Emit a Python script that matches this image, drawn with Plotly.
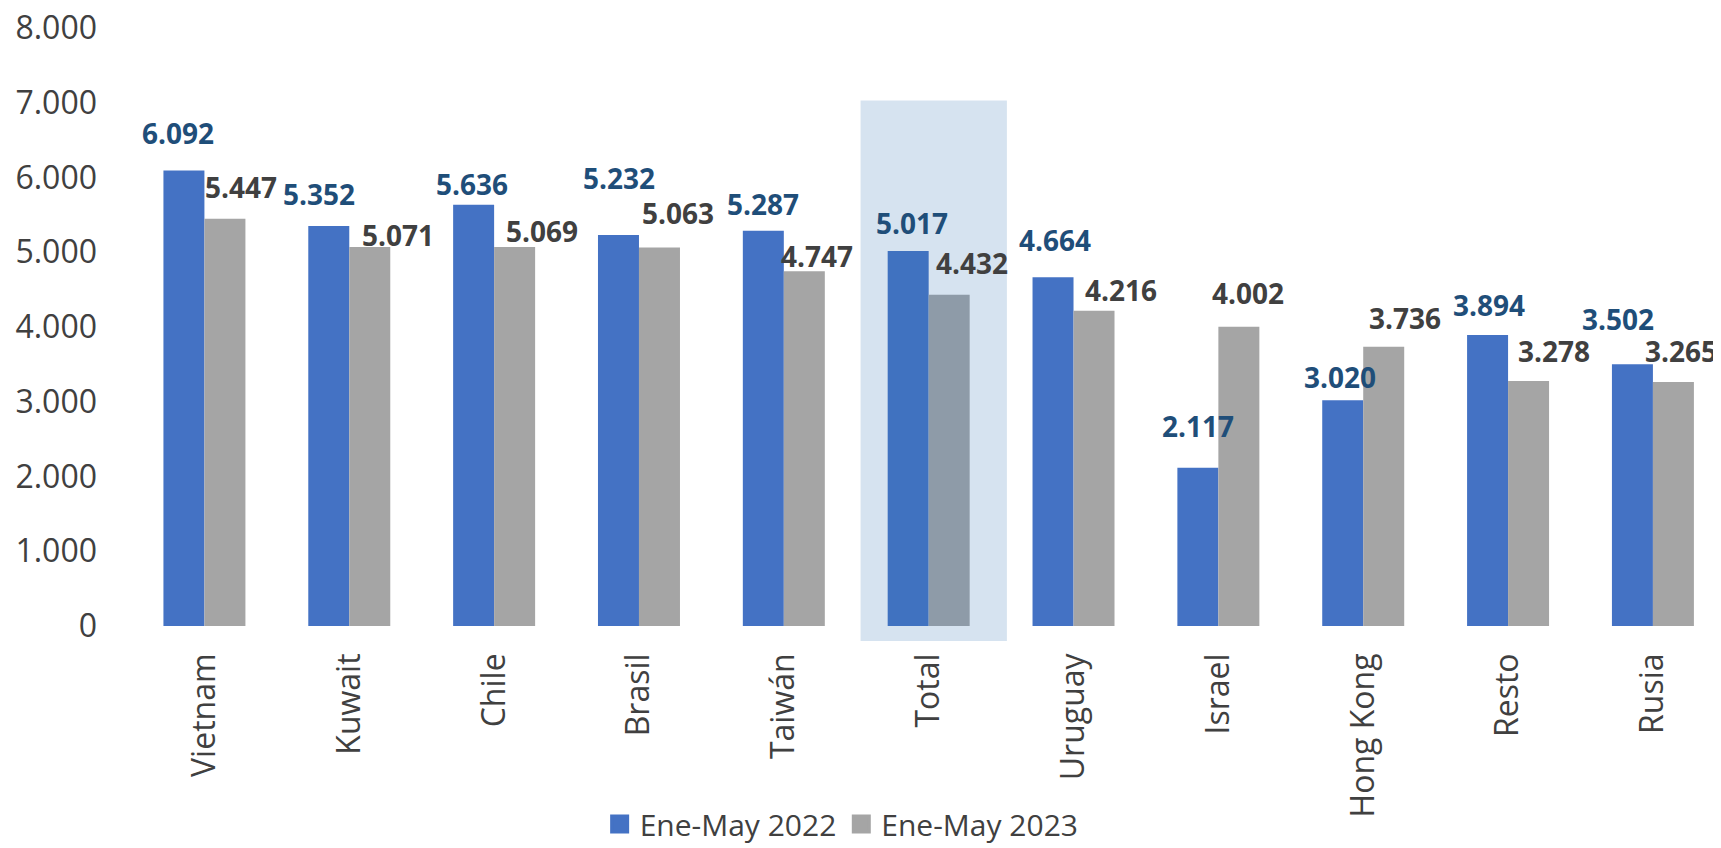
import plotly.graph_objects as go

categories = ["Vietnam", "Kuwait", "Chile", "Brasil", "Taiwán", "Total",
              "Uruguay", "Israel", "Hong Kong", "Resto", "Rusia"]
ene_may_2022 = [6092, 5352, 5636, 5232, 5287, 5017, 4664, 2117, 3020, 3894, 3502]
ene_may_2023 = [5447, 5071, 5069, 5063, 4747, 4432, 4216, 4002, 3736, 3278, 3265]
series_names = ["Ene-May 2022", "Ene-May 2023"]
y_tick_vals = [0, 1000, 2000, 3000, 4000, 5000, 6000, 7000, 8000]
y_tick_text = ["0", "1.000", "2.000", "3.000", "4.000", "5.000", "6.000", "7.000", "8.000"]

# label placement tweaks (pixels): horizontal offset from bar centre, height of label centre above bar top
lbl22_dx = [-6, -10, -2, 1, 0, 4, 2, 0, -3, 1, -14]
lbl22_dy = [38, 32, 21, 57, 27, 28, 37, 42, 23, 30, 45]
lbl23_dx = [16, 28, 27, 19, 13, 23, 27, 9, 21, 25, 8]
lbl23_dy = [32, 12, 16, 35, 15, 32, 21, 34, 29, 30, 31]

BLUE = "#4472C4"
GRAY = "#A5A5A5"
LBL_BLUE = "#1F4E79"
TXT = "#404040"
FONT = "Open Sans"

# the page body adds an 8px offset, so the figure is 8px smaller than the window
W, H = 1713, 840
ML, MR, MT, MB = 123.5, 0, 20, 222
XR = [-0.5, 10.47]
BARGAP = 0.434
cat_px = (W - ML - MR) / (XR[1] - XR[0])
half_bar = (1 - BARGAP) * cat_px / 4


def fmt(v):
    return f"{v:,}".replace(",", ".")


fig = go.Figure()
fig.add_trace(go.Bar(x=categories, y=ene_may_2022, name=series_names[0],
                     marker=dict(color=BLUE, line=dict(width=0)), showlegend=False))
fig.add_trace(go.Bar(x=categories, y=ene_may_2023, name=series_names[1],
                     marker=dict(color=GRAY, line=dict(width=0)), showlegend=False))
# legend entries
for nm, col in zip(series_names, [BLUE, GRAY]):
    fig.add_trace(go.Scatter(x=[None], y=[None], mode="markers", name=nm,
                             marker=dict(symbol="square", size=16, color=col,
                                         line=dict(width=3, color=col))))

annotations = []
for i, c in enumerate(categories):
    annotations.append(dict(x=c, y=ene_may_2022[i], xref="x", yref="y",
                            text=fmt(ene_may_2022[i]), showarrow=False,
                            xanchor="center", yanchor="middle",
                            xshift=-half_bar + lbl22_dx[i], yshift=lbl22_dy[i],
                            font=dict(family=FONT, size=28, color=LBL_BLUE, weight="bold")))
    annotations.append(dict(x=c, y=ene_may_2023[i], xref="x", yref="y",
                            text=fmt(ene_may_2023[i]), showarrow=False,
                            xanchor="center", yanchor="middle",
                            xshift=half_bar + lbl23_dx[i], yshift=lbl23_dy[i],
                            font=dict(family=FONT, size=28, color=TXT, weight="bold")))

total_idx = categories.index("Total")
fig.add_shape(type="rect", xref="x", yref="paper",
              x0=total_idx - 0.47, x1=total_idx + 0.54,
              y0=-0.025, y1=7030 / 8000,
              fillcolor="rgba(50,115,180,0.2)", line=dict(width=0), layer="above")

fig.update_layout(
    width=W, height=H,
    margin=dict(l=ML, r=MR, t=MT, b=MB, autoexpand=False),
    paper_bgcolor="white", plot_bgcolor="white",
    barmode="group", bargap=BARGAP, bargroupgap=0,
    font=dict(family=FONT, color=TXT),
    annotations=annotations,
    showlegend=True,
    legend=dict(orientation="h", x=0.4466, xanchor="center", y=-0.331, yanchor="middle",
                font=dict(family=FONT, size=30, color=TXT), bgcolor="rgba(0,0,0,0)"),
    xaxis=dict(range=XR, tickangle=-90, showgrid=False, zeroline=False, showline=False,
               ticks="", ticklabelstandoff=20, automargin=False,
               tickfont=dict(family=FONT, size=32, color=TXT)),
    yaxis=dict(range=[0, 8000], tickvals=y_tick_vals, ticktext=y_tick_text,
               showgrid=False, zeroline=False, showline=False, ticks="", automargin=False,
               ticklabeloverflow="allow",
               ticklabelstandoff=34, tickfont=dict(family=FONT, size=32, color=TXT)),
)

fig.write_html("out.html")
